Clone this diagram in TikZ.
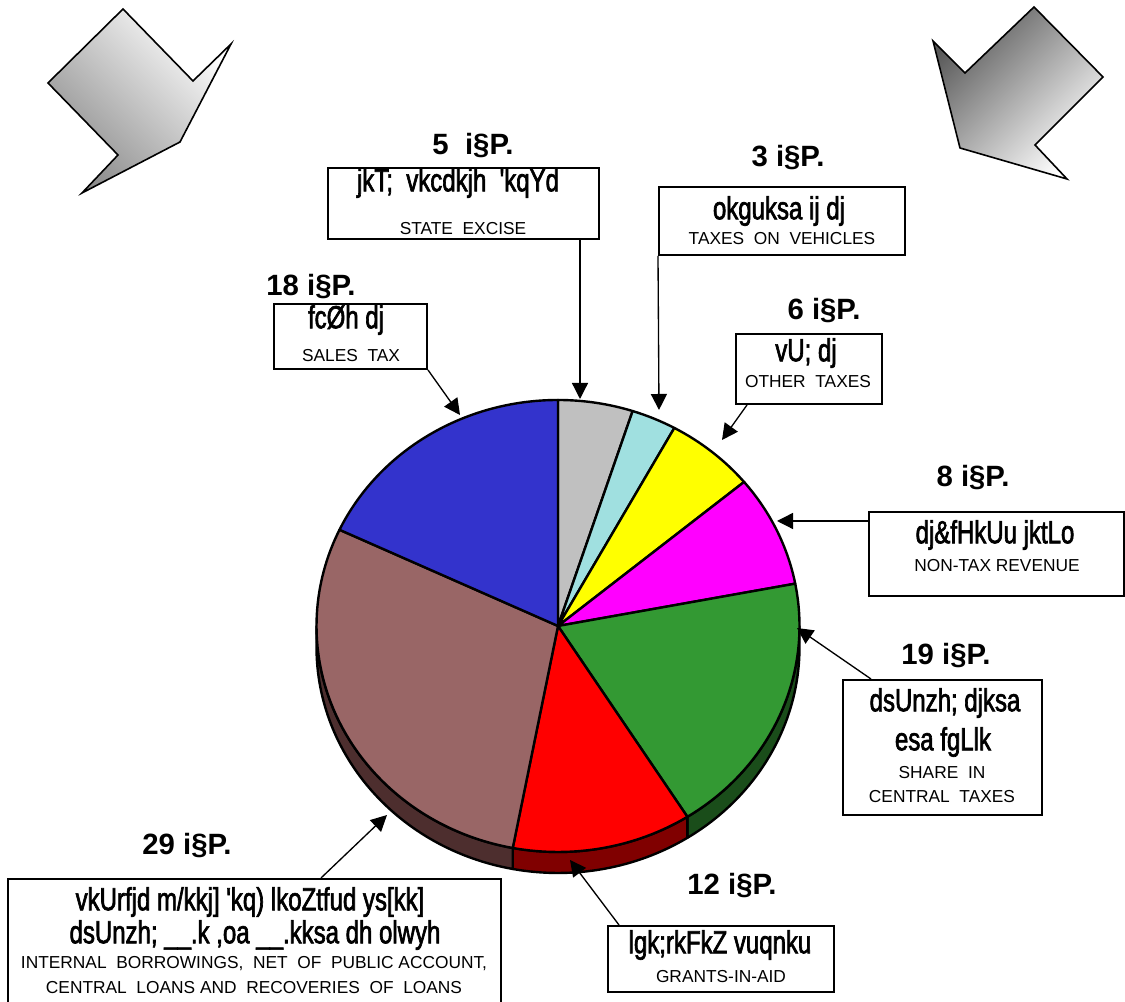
\documentclass[tikz,border=0pt]{standalone}
\usepackage{fontspec}
\setmainfont{Liberation Sans}
\newfontfamily\kruti[FakeStretch=0.75,FakeBold=2]{Liberation Sans}
\usetikzlibrary{arrows.meta}

\definecolor{sliceGray}{HTML}{C0C0C0}
\definecolor{sliceCyan}{HTML}{A0E0E0}
\definecolor{sliceYellow}{HTML}{FFFF00}
\definecolor{sliceMagenta}{HTML}{FF00FF}
\definecolor{sliceGreen}{HTML}{339933}
\definecolor{sliceRed}{HTML}{FF0000}
\definecolor{sliceBrown}{HTML}{996666}
\definecolor{sliceBlue}{HTML}{3333CC}
\definecolor{sideGreen}{HTML}{1A4D1A}
\definecolor{sideRed}{HTML}{800000}
\definecolor{sideBrown}{HTML}{4D2E2E}

\begin{document}
\begin{tikzpicture}[x=0.75pt,y=0.75pt,
    box/.style={draw,line width=1.5pt,inner sep=0pt},
    hd/.style={font=\fontsize{22}{26}\selectfont\bfseries},
    kd/.style={font=\kruti\fontsize{24}{28}\selectfont},
    en/.style={font=\fontsize{13}{15.6}\selectfont},
    conn/.style={line width=1pt,-{Triangle[length=12pt,width=12pt]}},
    slice/.style={line width=1.8pt,line join=round},
    bigarrow/.style={line width=1.2pt,line join=miter}]
\useasboundingbox (0,0) rectangle (1125,1002);

% decorative arrows
\shadedraw[bigarrow,left color=white,right color=black!45,shading angle=-45]
    (123,993) -- (193,921) -- (231,958) -- (180,860) -- (82,809) -- (118,847) -- (48,919) -- cycle;
\shadedraw[bigarrow,left color=black!65,right color=white,shading angle=45]
    (1034,995) -- (1103,925) -- (1035,857) -- (1067,823) -- (960,854) -- (933,961) -- (965,929) -- cycle;

% pie, side first
\coordinate (c) at (558,376);
\foreach \a/\b/\col in {0/-57.6/sideGreen,-57.6/-100.8/sideRed,-100.8/-180/sideBrown}
    \filldraw[slice,fill=\col] (c) ++(\a:181.125pt and 169.5pt)
        arc[start angle=\a,end angle=\b,x radius=181.125pt,y radius=169.5pt] -- ++(0,-21)
        arc[start angle=\b,end angle=\a,x radius=181.125pt,y radius=169.5pt] -- cycle;
\foreach \a/\b/\col in {90/72/sliceGray,72/61.2/sliceCyan,61.2/39.6/sliceYellow,
        39.6/10.8/sliceMagenta,10.8/-57.6/sliceGreen,-57.6/-100.8/sliceRed,
        -100.8/-205.2/sliceBrown,-205.2/-270/sliceBlue}
    \filldraw[slice,fill=\col] (c) -- ++(\a:181.125pt and 169.5pt)
        arc[start angle=\a,end angle=\b,x radius=181.125pt,y radius=169.5pt] -- cycle;

% boxes
\node[box,minimum width=203.25pt,minimum height=53.25pt] (excise) at (463.5,798.5) {};
\node[box,minimum width=114.75pt,minimum height=48.75pt] (sales) at (350.5,665.5) {};
\node[box,minimum width=184.5pt,minimum height=51pt] (vehicles) at (782,781) {};
\node[box,minimum width=109.5pt,minimum height=52.5pt] (other) at (809,633) {};
\node[box,minimum width=191.25pt,minimum height=63pt] (nontax) at (996.5,448) {};
\node[box,minimum width=149.25pt,minimum height=101.25pt] (share) at (942.5,254.5) {};
\node[box,minimum width=169.5pt,minimum height=49.5pt] (grants) at (721,43) {};
\node[box,minimum width=369.75pt,minimum height=94.5pt] (internal) at (254.5,60) {};

% headings
\node[hd] (excisehd) at (473,856) {5~~i§P.};
\node[hd] (vehicleshd) at (788,844) {3 i§P.};
\node[hd] (saleshd) at (311,715) {18 i§P.};
\node[hd] (otherhd) at (824,691) {6 i§P.};
\node[hd] (nontaxhd) at (973,524) {8 i§P.};
\node[hd] (sharehd) at (946,346) {19 i§P.};
\node[hd] (grantshd) at (732,116) {12 i§P.};
\node[hd] (internalhd) at (187,156) {29 i§P.};

% labels
\node[kd] (excisekd) at (458,819) {jkT;~~vkcdkjh~~'kqYd};
\node[en] (exciseen) at (463,773) {STATE~~EXCISE};
\node[kd] (saleskd) at (346,682) {fcØh dj};
\node[en] (salesen) at (351,646) {SALES~~TAX};
\node[kd] (vehicleskd) at (779,791) {okguksa ij dj};
\node[en] (vehiclesen) at (782,763) {TAXES~~ON~~VEHICLES};
\node[kd] (otherkd) at (806,649) {vU; dj};
\node[en] (otheren) at (808,620) {OTHER~~TAXES};
\node[kd] (nontaxkd) at (995,467) {dj\&fHkUu jktLo};
\node[en] (nontaxen) at (997,436) {NON-TAX REVENUE};
\node[kd] (sharekda) at (945,299) {dsUnzh; djksa};
\node[kd] (sharekdb) at (943,260) {esa fgLlk};
\node[en] (shareena) at (942,229) {SHARE~~IN};
\node[en] (shareenb) at (942,205) {CENTRAL~~TAXES};
\node[kd] (grantskd) at (720,57) {lgk;rkFkZ vuqnku};
\node[en] (grantsen) at (721,25) {GRANTS-IN-AID};
\node[kd] (internalkda) at (250,100) {vkUrfjd m/kkj] 'kq) lkoZtfud ys[kk]};
\node[kd] (internalkdb) at (255,67) {dsUnzh; \_\_.k ,oa \_\_.kksa dh olwyh};
\node[en] (internalena) at (254,38) {INTERNAL~~BORROWINGS,~~NET~~OF~~PUBLIC ACCOUNT,};
\node[en] (internalenb) at (254,14) {CENTRAL~~LOANS AND~~RECOVERIES~~OF~~LOANS};

% connectors
\coordinate (excisetip) at (580,603);
\coordinate (vehiclestip) at (659,592);
\coordinate (othertip) at (722,562);
\coordinate (nontaxtip) at (777,481);
\coordinate (sharetip) at (797,374);
\coordinate (grantstip) at (570,142);
\coordinate (salestip) at (460,587);
\coordinate (internaltip) at (387,187);
\draw[conn] (excise.south -| excisetip) -- (excisetip);
\draw[conn] (vehicles.south west) -- (vehiclestip);
\draw[conn] ([xshift=9pt]other.south west) -- (othertip);
\draw[conn] (nontaxtip -| nontax.west) -- (nontaxtip);
\draw[conn] ([xshift=21.75pt]share.north west) -- (sharetip);
\draw[conn] ([xshift=9pt]grants.north west) -- (grantstip);
\draw[conn] (sales.south east) -- (salestip);
\draw[conn] ([xshift=235.5pt]internal.north west) -- (internaltip);
\end{tikzpicture}
\end{document}
